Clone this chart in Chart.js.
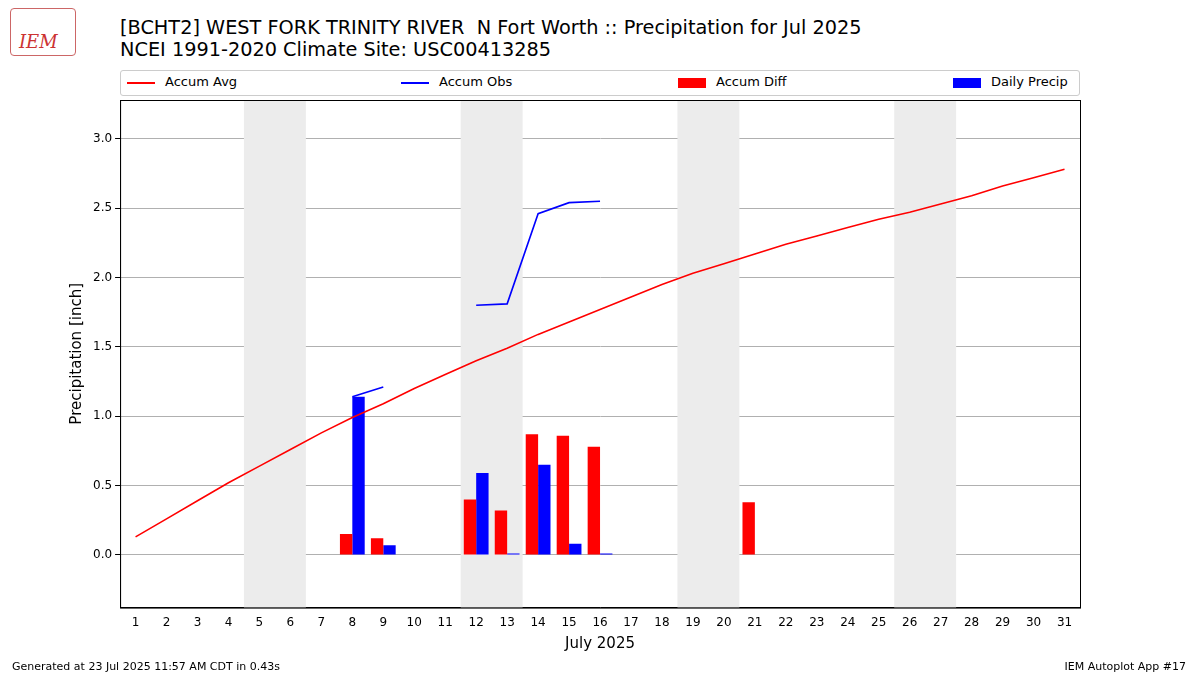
<!DOCTYPE html>
<html><head><meta charset="utf-8">
<script src="https://cdn.jsdelivr.net/npm/chart.js@4"></script>
<style>
body{margin:0;width:1200px;height:675px;background:#fff;font-family:"DejaVu Sans",sans-serif;position:relative;overflow:hidden}
#t{position:absolute;left:120px;top:17px;font-size:19.3px;line-height:22px;color:#000}
#leg{position:absolute;left:120px;top:70px;width:958px;height:24px;border:1px solid #ccc;border-radius:3px;font-size:13px}
.li{position:absolute;top:3px;white-space:nowrap}
.ln{display:inline-block;width:28px;height:2px;vertical-align:middle;margin-right:10px}
.bx{display:inline-block;width:28px;height:10px;vertical-align:middle;margin-right:10px}
.ft{position:absolute;top:660px;font-size:11px}
#logo{position:absolute;left:10px;top:8px;font-family:"DejaVu Serif";color:#c33;font-size:18px}
#c{position:absolute;left:0;top:0}
</style></head><body>
<div id="logo"><div style="width:66px;height:48px;border:1px solid #c66;border-radius:4px;padding-top:22px;box-sizing:border-box;padding-left:8px;font-style:italic">IEM</div></div>
<div id="t">[BCHT2] WEST FORK TRINITY RIVER&nbsp; N Fort Worth :: Precipitation for Jul 2025<br>NCEI 1991-2020 Climate Site: USC00413285</div>
<div id="leg">
<span class="li" style="left:6px"><span class="ln" style="background:red"></span>Accum Avg</span>
<span class="li" style="left:280px"><span class="ln" style="background:blue"></span>Accum Obs</span>
<span class="li" style="left:557px"><span class="bx" style="background:red"></span>Accum Diff</span>
<span class="li" style="left:832px"><span class="bx" style="background:blue"></span>Daily Precip</span>
</div>
<canvas id="c" width="1200" height="675"></canvas>
<div class="ft" style="left:12px">Generated at 23 Jul 2025 11:57 AM CDT in 0.43s</div>
<div class="ft" style="right:14px">IEM Autoplot App #17</div>
<script>
// ── Data ───────────────────────────────────────────────
const days = Array.from({length: 31}, (_, i) => String(i + 1));
const accumAvg = [0.13,0.26,0.39,0.52,0.64,0.76,0.88,0.99,1.09,1.20,1.30,1.40,1.49,1.59,1.68,1.77,1.86,1.95,2.03,2.10,2.17,2.24,2.30,2.36,2.42,2.47,2.53,2.59,2.66,2.72,2.78];
const N = null;
const accumObs = [N,N,N,N,N,N,N,1.14,1.21,N,N,1.80,1.81,2.46,2.54,2.55,N,N,N,N,N,N,N,N,N,N,N,N,N,N,N];
const accumDiff = [N,N,N,N,N,N,N,0.15,0.12,N,N,0.40,0.32,0.87,0.86,0.78,N,N,N,N,0.38,N,N,N,N,N,N,N,N,N,N];
const dailyPrecip = [N,N,N,N,N,N,N,1.14,0.07,N,N,0.59,0.01,0.65,0.08,0.01,N,N,N,N,N,N,N,N,N,N,N,N,N,N,N];
const weekends = [[5, 6], [12, 13], [19, 20], [26, 27]];

// ── Plugins ────────────────────────────────────────────
const shade = {
  id: "shade",
  beforeDatasetsDraw(chart) {
    const {ctx, chartArea: a, scales: {x}} = chart;
    const w = x.getPixelForValue(1) - x.getPixelForValue(0);
    ctx.save();
    ctx.fillStyle = "#ececec";
    weekends.forEach(([s, e]) => {
      const l = x.getPixelForValue(s - 1) - w / 2, r = x.getPixelForValue(e - 1) + w / 2;
      ctx.fillRect(l, a.top, r - l, a.bottom - a.top);
    });
    ctx.restore();
  },
  afterDraw(chart) {
    const {ctx, chartArea: a} = chart;
    ctx.save();
    ctx.strokeStyle = "#000"; ctx.lineWidth = 1;
    ctx.strokeRect(a.left + 0.5, a.top + 0.5, a.right - a.left, a.bottom - a.top);
    ctx.restore();
  }
};

const font = {family: "DejaVu Sans", size: 12};
new Chart(document.getElementById("c"), {
  type: "bar",
  data: {
    labels: days,
    datasets: [
      {type: "line", label: "Accum Avg", data: accumAvg, borderColor: "red", borderWidth: 1.6, pointRadius: 0, tension: 0},
      {type: "line", label: "Accum Obs", data: accumObs, borderColor: "blue", borderWidth: 1.6, pointRadius: 0, spanGaps: false},
      {label: "Accum Diff", data: accumDiff, backgroundColor: "red", barPercentage: 1, categoryPercentage: 0.8},
      {label: "Daily Precip", data: dailyPrecip, backgroundColor: "blue", barPercentage: 1, categoryPercentage: 0.8}
    ]
  },
  options: {
    responsive: false, animation: false,
    layout: {padding: {left: 64, right: 120, top: 100, bottom: 20}},
    plugins: {legend: {display: false}, tooltip: {enabled: false}},
    scales: {
      x: {
        grid: {display: false, drawTicks: true, tickLength: 5, color: "#000"},
        border: {color: "#000"},
        ticks: {color: "#000", font, maxRotation: 0, autoSkip: false},
        title: {display: true, text: "July 2025", color: "#000", font: {family: "DejaVu Sans", size: 15}, padding: 2}
      },
      y: {
        min: -0.38, max: 3.28,
        afterBuildTicks(s) { s.ticks = [0, 0.5, 1, 1.5, 2, 2.5, 3].map(v => ({value: v})); },
        grid: {color: "#b0b0b0", tickColor: "#000", tickLength: 5},
        border: {color: "#000"},
        ticks: {color: "#000", font, callback: v => v.toFixed(1)},
        title: {display: true, text: "Precipitation [inch]", color: "#000", font: {family: "DejaVu Sans", size: 15}}
      }
    }
  },
  plugins: [shade]
});
</script>
</body></html>
